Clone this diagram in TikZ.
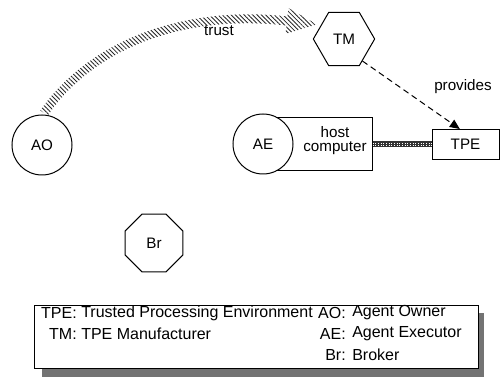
\documentclass[tikz,border=0pt]{standalone}
\usepackage{fontspec}
\setmainfont{Liberation Sans}
\usetikzlibrary{shapes.geometric,patterns.meta,arrows.meta}

\begin{document}
\begin{tikzpicture}[x=0.75pt,y=-0.75pt,
  txt/.style={font=\fontsize{11.4}{10.5}\selectfont, inner sep=0pt},
  legtxt/.style={font=\fontsize{12}{14}\selectfont, inner sep=0pt},
  actor/.style={circle, draw, line width=0.75pt, fill=white,
    minimum size=45pt, inner sep=0pt, txt},
  hexa/.style={regular polygon, regular polygon sides=6, draw,
    line width=0.75pt, fill=white, minimum size=46pt, inner sep=0pt, txt},
  octa/.style={regular polygon, regular polygon sides=8, draw,
    line width=0.75pt, fill=white, minimum size=47pt, inner sep=0pt, txt},
  boxed/.style={rectangle, draw, line width=0.75pt, fill=white, inner sep=0pt, txt},
  hatched/.style={pattern={Lines[angle=-45,distance=2.3pt,line width=0.65pt]},
    pattern color=black!85},
  provide/.style={draw, line width=0.75pt, dash pattern=on 4.5pt off 3pt,
    -{Triangle[length=7.5pt,width=6.5pt]}},
  linkbar/.style={draw, line width=4.5pt, black!80},
  linkdots/.style={draw, white, line width=0.8pt, dash pattern=on 0.8pt off 1.2pt},
  shadowfill/.style={fill=black!55}
]
\useasboundingbox (0,0) rectangle (501,378);

% fat hatched "trust" arrow from AO towards TM
\fill[hatched]
  (40.3,110.4) .. controls (92.5,36.3) and (189.6,5.6) .. (287.5,16.5)
  -- (288.5,8.1) -- (316.8,24.4) -- (285.5,33.9) -- (286.5,25.5)
  .. controls (190.4,14.4) and (97.3,43.8) .. (47.7,115.6) -- cycle;
\node[txt] (trust) at (219,31) {trust};

% parties
\node[actor] (AO) at (42,145) {AO};
\node[hexa]  (TM) at (344,39) {TM};
\node[octa]  (Br) at (154,243) {Br};

% agent executor on its host computer
\node[boxed, minimum width=81.75pt, minimum height=39.75pt] (host) at (317.5,144.5) {};
\node[txt, align=center] (hosttext) at (335,141) {host\\computer};
\node[actor] (AE) at (263,144) {AE};

% trusted processing environment
\node[boxed, minimum width=50.25pt, minimum height=22.5pt] (TPE) at (465.5,144.5) {TPE};

% attachment of the TPE to the host
\draw[linkbar] (host.east) -- (TPE.west);
\draw[linkdots] ([yshift=0.9pt]host.east) -- ([yshift=0.9pt]TPE.west);
\draw[linkdots] ([yshift=-0.9pt]host.east) -- ([yshift=-0.9pt]TPE.west);

% TM provides the TPE
\draw[provide] (TM.-50) -- (TPE.110);
\node[txt] (provides) at (463,87) {provides};

% legend with drop shadow
\fill[shadowfill] (42,313) rectangle (484,377);
\node[boxed, minimum width=333pt, minimum height=47.25pt, anchor=north west] (legend) at (34,305) {};
\node[legtxt, anchor=east] (kTPE) at (77,313) {TPE:};
\node[legtxt, anchor=west] (dTPE) at (81,313) {Trusted Processing Environment};
\node[legtxt, anchor=east] (kTM) at (77,334) {TM:};
\node[legtxt, anchor=west] (dTM) at (81,334) {TPE Manufacturer};
\node[legtxt, anchor=east] (kAO) at (346,313) {AO:};
\node[legtxt, anchor=west] (dAO) at (352,313) {Agent Owner};
\node[legtxt, anchor=east] (kAE) at (346,334) {AE:};
\node[legtxt, anchor=west] (dAE) at (352,334) {Agent Executor};
\node[legtxt, anchor=east] (kBr) at (346,355) {Br:};
\node[legtxt, anchor=west] (dBr) at (352,355) {Broker};
\end{tikzpicture}
\end{document}
